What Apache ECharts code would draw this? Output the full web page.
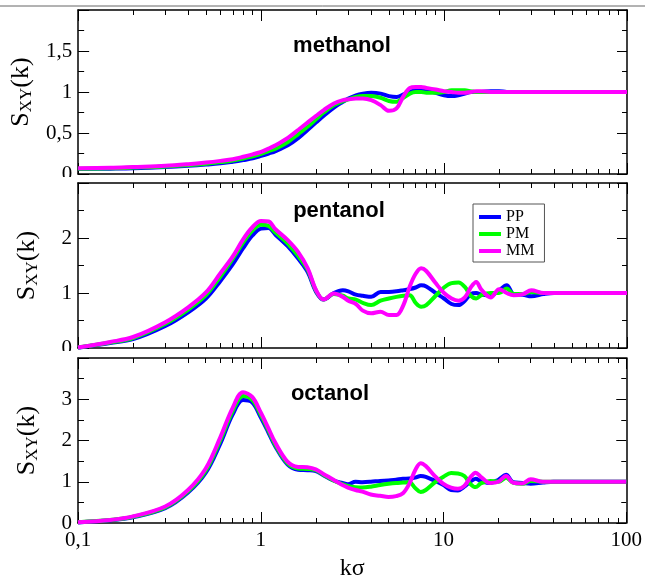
<!DOCTYPE html>
<html><head><meta charset="utf-8">
<script src="https://cdn.jsdelivr.net/npm/echarts@6/dist/echarts.min.js"></script>
<style>html,body{margin:0;padding:0;background:#fff}#c{width:645px;height:583px}</style>
</head><body><div id="c"></div><script>
// ---- data ----
const kValues = [0.1,0.15,0.2,0.3,0.4,0.5,0.6,0.7,0.8,0.9,
  1.0,1.1,1.2,1.4,1.6,1.8,2.0,2.2,2.5,2.8,
  3.0,3.3,3.6,4.0,4.5,5.0,5.5,6.0,6.5,7.0,
  7.5,8.0,9.0,10,11,12,13,14,15,16,
  18,20,22,24,27,30,35,40,50,60,
  80,100];
const xTickLabels = ['0,1','1','10','100'];
const xMinorTicks = [0.2,0.3,0.4,0.5,0.6,0.7,0.8,0.9,2,3,4,5,6,7,8,9,20,30,40,50,60,70,80,90];
const panelNames = ['methanol','pentanol','octanol'];
const panelYMax = [2,3,4];
const panelYStep = [0.5,1,1];
const seriesNames = ['PP','PM','MM'];
const seriesColors = ['#0000ff','#00ff00','#ff00ff'];

const methanolPP = [0.06,0.065,0.07,0.085,0.10,0.115,0.13,0.15,0.17,0.19,
  0.22,0.25,0.28,0.35,0.44,0.54,0.63,0.71,0.81,0.88,
  0.92,0.96,0.98,0.99,0.98,0.95,0.94,0.97,1.00,1.02,
  1.02,1.01,0.99,0.96,0.95,0.96,0.98,1.00,1.00,1.00,
  1.01,1.01,1.00,1.00,1.00,1.00,1.00,1.00,1.00,1.00,
  1.00,1.00];
const methanolPM = [0.065,0.07,0.078,0.092,0.11,0.125,0.145,0.165,0.19,0.215,
  0.245,0.28,0.31,0.39,0.49,0.58,0.67,0.75,0.84,0.89,
  0.91,0.94,0.95,0.95,0.93,0.89,0.88,0.93,0.98,1.00,
  1.00,0.99,0.99,1.00,1.02,1.02,1.02,1.01,1.00,1.00,
  1.00,1.00,1.00,1.00,1.00,1.00,1.00,1.00,1.00,1.00,
  1.00,1.00];
const methanolMM = [0.07,0.075,0.085,0.10,0.12,0.14,0.16,0.18,0.21,0.24,
  0.27,0.31,0.35,0.44,0.54,0.63,0.71,0.78,0.86,0.90,
  0.91,0.92,0.92,0.90,0.84,0.77,0.80,0.95,1.05,1.06,
  1.06,1.05,1.03,1.01,1.00,0.99,0.99,1.00,1.01,1.01,
  1.00,1.00,1.00,1.00,1.00,1.00,1.00,1.00,1.00,1.00,
  1.00,1.00];

const pentanolPP = [0.005,0.09,0.16,0.40,0.65,0.90,1.22,1.52,1.82,2.05,
  2.17,2.18,2.06,1.85,1.62,1.38,1.02,0.88,1.00,1.05,
  1.03,0.97,0.95,0.93,1.02,1.02,1.03,1.05,1.07,1.10,
  1.14,1.12,1.00,0.90,0.80,0.78,0.86,0.98,1.00,0.97,
  0.95,1.05,1.14,0.98,0.97,0.94,0.98,1.00,1.00,1.00,
  1.00,1.00];
const pentanolPM = [0.01,0.10,0.18,0.44,0.70,0.96,1.30,1.62,1.92,2.14,
  2.24,2.22,2.10,1.90,1.67,1.42,1.04,0.88,0.98,0.95,
  0.90,0.88,0.82,0.78,0.86,0.90,0.93,0.95,0.96,0.82,
  0.75,0.78,0.95,1.10,1.18,1.19,1.11,0.95,0.90,0.96,
  1.00,1.00,1.08,0.98,0.98,1.02,1.00,1.00,1.00,1.00,
  1.00,1.00];
const pentanolMM = [0.01,0.11,0.20,0.47,0.74,1.01,1.36,1.66,1.98,2.20,
  2.31,2.30,2.16,1.96,1.74,1.45,1.05,0.88,0.99,0.93,
  0.86,0.80,0.68,0.63,0.66,0.60,0.60,0.78,1.12,1.35,
  1.45,1.40,1.18,1.00,0.90,0.86,0.92,1.10,1.20,1.06,
  0.92,1.07,1.00,0.96,0.98,1.05,1.00,1.00,1.00,1.00,
  1.00,1.00];

const octanolPP = [0.015,0.065,0.14,0.36,0.74,1.22,1.92,2.62,2.98,2.92,
  2.56,2.20,1.86,1.42,1.29,1.28,1.26,1.16,1.03,0.97,
  0.94,1.00,0.99,1.00,1.02,1.03,1.05,1.07,1.08,1.10,
  1.14,1.12,1.02,0.92,0.80,0.79,0.88,1.00,1.07,1.02,
  0.97,1.05,1.17,0.99,0.97,0.95,0.98,1.00,1.00,1.00,
  1.00,1.00];
const octanolPM = [0.02,0.07,0.15,0.38,0.77,1.27,2.00,2.70,3.08,2.98,
  2.62,2.25,1.90,1.45,1.32,1.31,1.28,1.17,1.03,0.94,
  0.90,0.87,0.86,0.88,0.92,0.95,0.97,0.98,0.99,0.85,
  0.75,0.80,0.99,1.12,1.21,1.20,1.14,0.95,0.87,0.96,
  1.02,1.00,1.10,0.98,0.95,1.02,1.00,1.00,1.00,1.00,
  1.00,1.00];
const octanolMM = [0.02,0.075,0.16,0.40,0.80,1.32,2.07,2.78,3.17,3.05,
  2.68,2.30,1.95,1.49,1.36,1.35,1.30,1.19,1.05,0.92,
  0.86,0.80,0.76,0.69,0.66,0.63,0.65,0.72,0.95,1.28,
  1.45,1.38,1.13,0.95,0.86,0.83,0.90,1.10,1.22,1.12,
  0.97,1.00,1.14,0.98,0.96,1.06,1.00,1.00,1.00,1.00,
  1.00,1.00];

const panelData = [
  [methanolPP, methanolPM, methanolMM],
  [pentanolPP, pentanolPM, pentanolMM],
  [octanolPP, octanolPM, octanolMM]
];

// ---- layout ----
const gridTops = [10, 183, 358];
const gridHeights = [164, 165, 165];
const titlePos = [[342, 46], [339, 211], [330, 394]];
const serif = 'Liberation Serif';

const grids = [], xAxes = [], yAxes = [], series = [];
for (let i = 0; i < 3; i++) {
  grids.push({left: 78, right: 18, top: gridTops[i], height: gridHeights[i], show: false});
  const isBottom = i === 2;
  const baseX = {gridIndex: i, type: 'log', logBase: 10, min: 0.1, max: 100, splitLine: {show: false}};
  xAxes.push(Object.assign({}, baseX, {
    position: 'bottom',
    axisLine: {show: true, lineStyle: {color: '#000', width: 1.5}},
    axisTick: {show: true, inside: true, length: 11, lineStyle: {color: '#000', width: 1}},
    axisLabel: {show: isBottom, color: '#000', fontFamily: serif, fontSize: 21, margin: 7,
      formatter: (v, idx) => xTickLabels[idx]},
    name: isBottom ? 'kσ' : '', nameLocation: 'middle', nameGap: 34,
    nameTextStyle: {color: '#000', fontFamily: serif, fontSize: 24}
  }));
  xAxes.push(Object.assign({}, baseX, {
    position: 'bottom',
    axisLine: {show: false},
    axisTick: {show: true, inside: true, length: 5, customValues: xMinorTicks, lineStyle: {color: '#000', width: 1}},
    axisLabel: {show: false}
  }));
  xAxes.push(Object.assign({}, baseX, {
    position: 'top',
    axisLine: {show: true, lineStyle: {color: '#000', width: 1.5}},
    axisTick: {show: true, inside: true, length: 11, lineStyle: {color: '#000', width: 1}},
    axisLabel: {show: false}
  }));
  xAxes.push(Object.assign({}, baseX, {
    position: 'top',
    axisLine: {show: false},
    axisTick: {show: true, inside: true, length: 5, customValues: xMinorTicks, lineStyle: {color: '#000', width: 1}},
    axisLabel: {show: false}
  }));

  const baseY = {gridIndex: i, type: 'value', min: 0, max: panelYMax[i], interval: panelYStep[i], splitLine: {show: false}};
  yAxes.push(Object.assign({}, baseY, {
    position: 'left',
    axisLine: {show: true, lineStyle: {color: '#000', width: 1.5}},
    axisTick: {show: true, inside: true, length: 11, lineStyle: {color: '#000', width: 1}},
    minorTick: {show: true, splitNumber: 2, length: 6, lineStyle: {color: '#000', width: 1}},
    axisLabel: {show: true, color: '#000', fontFamily: serif, fontSize: 21, margin: 6, showMaxLabel: false,
      formatter: v => String(v).replace('.', ',')},
    name: '{a|S}{b|XY}{a|(k)}', nameLocation: 'middle', nameRotate: 90, nameGap: 37,
    nameTextStyle: {rich: {
      a: {fontFamily: serif, fontSize: 26, color: '#000', lineHeight: 28, verticalAlign: 'middle'},
      b: {fontFamily: serif, fontSize: 17, color: '#000', lineHeight: 17, verticalAlign: 'bottom', padding: [7, 0, 0, 0]}
    }}
  }));
  yAxes.push(Object.assign({}, baseY, {
    position: 'right',
    axisLine: {show: true, lineStyle: {color: '#000', width: 1.5}},
    axisTick: {show: true, inside: true, length: 10, lineStyle: {color: '#000', width: 1}},
    minorTick: {show: true, splitNumber: 2, length: 5, lineStyle: {color: '#000', width: 1}},
    axisLabel: {show: false}
  }));

  for (let s = 0; s < 3; s++) {
    series.push({
      name: seriesNames[s], type: 'line', xAxisIndex: i * 4, yAxisIndex: i * 2,
      data: kValues.map((k, j) => [k, panelData[i][s][j]]),
      showSymbol: false, symbol: 'none', smooth: 0.35,
      lineStyle: {color: seriesColors[s], width: 4},
      itemStyle: {color: seriesColors[s]},
      z: 2 + s
    });
  }
}

const graphics = [
  {type: 'line', shape: {x1: 0, y1: 6, x2: 645, y2: 6}, style: {stroke: '#666', lineWidth: 1}, silent: true},
  {type: 'rect', shape: {x: 0, y: 177, width: 74, height: 5}, style: {fill: '#fff'}, z: 100},
  {type: 'rect', shape: {x: 0, y: 351, width: 74, height: 6}, style: {fill: '#fff'}, z: 100}
];
panelNames.forEach((n, i) => graphics.push({
  type: 'text', x: titlePos[i][0], y: titlePos[i][1], z: 100,
  style: {text: n, font: 'bold 22px "Liberation Sans"', fill: '#000', align: 'center', verticalAlign: 'middle'}
}));

const chart = echarts.init(document.getElementById('c'), null, {renderer: 'canvas'});
chart.setOption({
  animation: false,
  backgroundColor: '#fff',
  grid: grids, xAxis: xAxes, yAxis: yAxes, series: series,
  legend: {
    data: seriesNames.map(n => ({name: n, icon: 'rect'})),
    orient: 'vertical', left: 473, top: 204,
    itemWidth: 22, itemHeight: 4, itemGap: 1,
    padding: [5, 10, 3, 6],
    borderColor: '#555', borderWidth: 1, borderRadius: 0,
    textStyle: {fontFamily: serif, fontSize: 16, color: '#000', lineHeight: 15}
  },
  graphic: graphics
});
</script></body></html>
